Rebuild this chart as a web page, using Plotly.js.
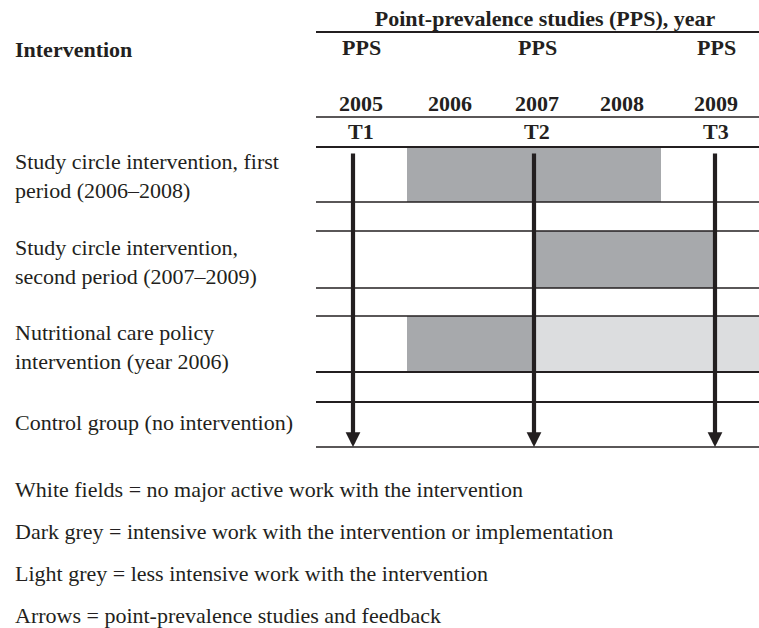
<!DOCTYPE html>
<html><head><meta charset="utf-8">
<script src="https://cdn.plot.ly/plotly-3.0.1.min.js"></script>
<style>html,body{margin:0;padding:0;background:#fff}#chart{width:759px;height:628px}</style>
</head><body><div id="chart"></div>
<script>
// ---- data ----
const interventions = [
  "Study circle intervention, first<br>period (2006–2008)",
  "Study circle intervention,<br>second period (2007–2009)",
  "Nutritional care policy<br>intervention (year 2006)",
  "Control group (no intervention)"
];
const darkStart = [2005.6, 2007, 2005.6, null];
const darkEnd   = [2008.4, 2009, 2007, null];
const lightStart = [null, null, 2007, null];
const lightEnd   = [null, null, 2009.5, null];
const years = [2005, 2006, 2007, 2008, 2009];
const yearLabels = ["2005", "2006", "2007", "2008", "2009"];
const ppsYears = [2005, 2007, 2009];
const ppsTimes = ["T1", "T2", "T3"];
const ppsHeader = ["PPS", "PPS", "PPS"];
const notes = [
  "White fields = no major active work with the intervention",
  "Dark grey = intensive work with the intervention or implementation",
  "Light grey = less intensive work with the intervention",
  "Arrows = point-prevalence studies and feedback"
];

// ---- layout constants ----
const W = 759, H = 628;
const ink = "#231f20";
const FONT = "Liberation Serif, Times New Roman, serif";
const FS = 22;
const pxPerYear = 90.5, x2005 = 353;
const xRange = [2005 - x2005 / pxPerYear, 2005 + (W - x2005) / pxPerYear];
const rowTop = [147, 231, 316, 402];
const rowBot = [202, 288, 372, 447];
const labelY = [176, 262, 347, 422];
const colShift = [8, 6, 3, -3, 1];   // header text nudges per year column
const ppsShift = [8, 3, 1];
const tableLeft = 316 / W;
const rules = [[32, 2], [117, 1.5], [147, 2.2], [202, 1.3], [231, 1.3], [288, 1.3], [316, 1.3], [372, 2], [402, 2], [447, 1.3]];

const mid = i => (rowTop[i] + rowBot[i]) / 2;
const hgt = i => rowBot[i] - rowTop[i];

function barTrace(starts, ends, color) {
  const idx = starts.map((s, i) => s === null ? -1 : i).filter(i => i >= 0);
  return {
    type: "bar", orientation: "h",
    y: idx.map(mid), width: idx.map(hgt),
    base: idx.map(i => starts[i]),
    x: idx.map(i => ends[i] - starts[i]),
    marker: { color: color, line: { width: 0 } },
    hoverinfo: "skip", showlegend: false
  };
}

const data = [
  barTrace(darkStart, darkEnd, "#a7a9ac"),
  barTrace(lightStart, lightEnd, "#dcdddf")
];

const ann = [];
const txt = (o) => Object.assign({ showarrow: false, font: { family: FONT, size: FS, color: ink } }, o);

ann.push(txt({ text: "<b>Intervention</b>", xref: "paper", yref: "y", x: 13 / W, y: 49, xanchor: "left", yanchor: "middle" }));
ppsYears.forEach((yr, i) => {
  ann.push(txt({ text: "<b>" + ppsHeader[i] + "</b>", xref: "x", yref: "y", x: yr, y: 47, xshift: ppsShift[i], xanchor: "center", yanchor: "middle" }));
  ann.push(txt({ text: "<b>" + ppsTimes[i] + "</b>", xref: "x", yref: "y", x: yr, y: 131, xshift: ppsShift[i], xanchor: "center", yanchor: "middle" }));
  ann.push({ xref: "x", yref: "y", axref: "x", ayref: "y", x: yr, y: 447, ax: yr, ay: 152, text: "", showarrow: true,
    arrowhead: 2, arrowsize: 0.7, arrowwidth: 4.2, arrowcolor: ink, standoff: 0 });
});
years.forEach((yr, i) => {
  ann.push(txt({ text: "<b>" + yearLabels[i] + "</b>", xref: "x", yref: "y", x: yr, y: 103, xshift: colShift[i], xanchor: "center", yanchor: "middle" }));
});
interventions.forEach((t, i) => {
  ann.push(txt({ text: t, xref: "paper", yref: "y", x: 13 / W, y: labelY[i], xanchor: "left", yanchor: "middle", align: "left" }));
});
notes.forEach((t, i) => {
  ann.push(txt({ text: t, xref: "paper", yref: "y", x: 13 / W, y: 489 + 42 * i, xanchor: "left", yanchor: "middle", align: "left" }));
});

const shapes = rules.map(([y, w]) => ({
  type: "line", xref: "paper", yref: "y", x0: tableLeft, x1: 1, y0: y, y1: y,
  line: { color: ink, width: w }, layer: "above"
}));

const layout = {
  width: W, height: H,
  margin: { l: 0, r: 0, t: 0, b: 0 },
  paper_bgcolor: "#fff", plot_bgcolor: "#fff",
  title: { text: "<b>Point-prevalence studies (PPS), year</b>", x: 545 / W, xanchor: "center", xref: "paper",
    y: 1 - 18 / H, yanchor: "middle", yref: "container", font: { family: FONT, size: FS, color: ink } },
  xaxis: { range: xRange, visible: false, fixedrange: true },
  yaxis: { range: [H, 0], visible: false, fixedrange: true },
  barmode: "overlay", bargap: 0,
  showlegend: false, hovermode: false,
  annotations: ann, shapes: shapes
};

Plotly.newPlot("chart", data, layout, { displayModeBar: false, staticPlot: true });
</script>
</body></html>
